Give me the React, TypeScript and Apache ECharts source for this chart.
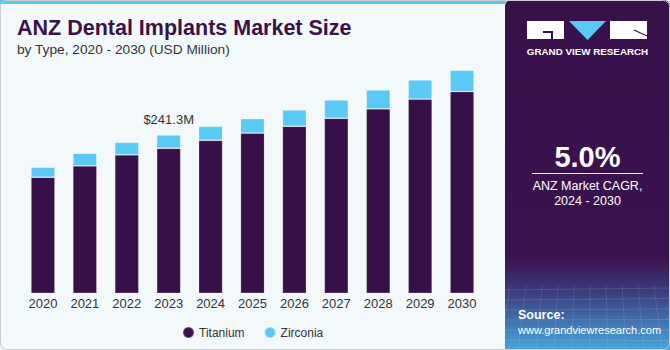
import React, { useEffect, useRef } from "react";
import * as echarts from "echarts";

const years = ["2020", "2021", "2022", "2023", "2024", "2025", "2026", "2027", "2028", "2029", "2030"];
const titanium = [176.8, 194.0, 210.8, 221.0, 233.2, 243.9, 254.5, 266.7, 280.9, 295.7, 307.2];
const zirconia = [15.2, 19.4, 19.3, 20.3, 21.3, 22.2, 24.9, 27.9, 29.0, 29.4, 32.7];
const labelIndex = 3;
const labelText = "$241.3M";

const FONT = "'Liberation Sans', Arial, Helvetica, sans-serif";

export default function App() {
  const ref = useRef<HTMLDivElement>(null);
  useEffect(() => {
    document.body.style.margin = "0";
    const chart = echarts.init(ref.current!, null, { renderer: "svg" });
    const option: any = {
      animation: false,
      backgroundColor: "#f3f8fb",
      textStyle: { fontFamily: FONT },
      grid: { left: 22, right: 187, top: 57, bottom: 56.7, containLabel: false },
      xAxis: {
        type: "category",
        data: years,
        axisLine: { show: false },
        axisTick: { show: false },
        axisLabel: { color: "#333333", fontSize: 13, margin: 4, fontFamily: FONT },
      },
      yAxis: {
        type: "value",
        min: 0,
        max: 360,
        show: false,
        splitLine: { show: false },
      },
      legend: {
        left: 177,
        top: 321,
        icon: "circle",
        itemWidth: 11,
        itemHeight: 11,
        itemGap: 19,
        textStyle: { color: "#333333", fontSize: 12, fontFamily: FONT },
        data: ["Titanium", "Zirconia"],
      },
      series: [
        {
          name: "Titanium",
          type: "bar",
          stack: "total",
          data: titanium,
          barWidth: 24,
          itemStyle: { color: "#37104a", borderColor: "rgba(255,255,255,0.25)", borderWidth: 0.8 },
        },
        {
          name: "Zirconia",
          type: "bar",
          stack: "total",
          data: zirconia.map((v, i) =>
            i === labelIndex
              ? {
                  value: v,
                  label: {
                    show: true,
                    position: "top",
                    distance: 9,
                    formatter: labelText,
                    color: "#333333",
                    fontSize: 13,
                    fontFamily: FONT,
                  },
                }
              : v
          ),
          barWidth: 24,
          itemStyle: { color: "#5bc9f5", borderColor: "rgba(255,255,255,0.35)", borderWidth: 0.8 },
        },
      ],
      graphic: [
        { type: "rect", shape: { x: 0, y: 0, width: 506, height: 4 }, style: { fill: "#5bc8f2" }, z: 10 },
        {
          type: "text",
          style: {
            x: 17,
            y: 28,
            text: "ANZ Dental Implants Market Size",
            fill: "#3a1248",
            font: `bold 21.5px ${FONT}`,
            verticalAlign: "middle",
          },
        },
        {
          type: "text",
          style: {
            x: 17,
            y: 49,
            text: "by Type, 2020 - 2030 (USD Million)",
            fill: "#333333",
            font: `13.7px ${FONT}`,
            verticalAlign: "middle",
          },
        },
        {
          type: "rect",
          shape: { x: 505, y: 0, width: 165, height: 350, r: [6, 6, 0, 0] },
          style: {
            fill: new echarts.graphic.LinearGradient(0, 0, 0, 1, [
              { offset: 0, color: "#38104a" },
              { offset: 0.74, color: "#3a134f" },
              { offset: 0.84, color: "#3b3f80" },
              { offset: 1, color: "#48a6de" },
            ]),
          },
          z: 5,
        },
        ...[0, 1, 2, 3, 4, 5].map((k) => ({
          type: "line",
          shape: { x1: 505, y1: 290 + k * 10, x2: 670, y2: 288 + k * 10.5 },
          style: { stroke: "rgba(255,255,255,0.12)", lineWidth: 1 },
          z: 6,
        })),
        ...[0, 1, 2, 3, 4, 5, 6, 7, 8, 9, 10].map((k) => ({
          type: "line",
          shape: { x1: 510 + k * 16, y1: 285, x2: 500 + k * 18, y2: 350 },
          style: { stroke: "rgba(255,255,255,0.1)", lineWidth: 1 },
          z: 6,
        })),
        { type: "rect", shape: { x: 527, y: 21, width: 37, height: 18 }, style: { fill: "#ffffff" }, z: 7 },
        { type: "rect", shape: { x: 543, y: 31, width: 10, height: 2 }, style: { fill: "#38104a" }, z: 8 },
        { type: "rect", shape: { x: 551, y: 31, width: 2, height: 8 }, style: { fill: "#38104a" }, z: 8 },
        {
          type: "polygon",
          shape: { points: [[569, 21], [606, 21], [587.5, 40]] },
          style: { fill: "#5bc8f5" },
          z: 7,
        },
        { type: "rect", shape: { x: 610, y: 21, width: 37, height: 18 }, style: { fill: "#ffffff" }, z: 7 },
        { type: "line", shape: { x1: 634, y1: 30, x2: 647, y2: 36 }, style: { stroke: "#38104a", lineWidth: 1.2 }, z: 8 },
        {
          type: "text",
          style: {
            x: 587.5,
            y: 51,
            text: "GRAND VIEW RESEARCH",
            fill: "#ffffff",
            font: `bold 9.8px ${FONT}`,
            align: "center",
            verticalAlign: "middle",
          },
          z: 7,
        },
        {
          type: "text",
          style: {
            x: 587.5,
            y: 157,
            text: "5.0%",
            fill: "#ffffff",
            font: `bold 29px ${FONT}`,
            align: "center",
            verticalAlign: "middle",
          },
          z: 7,
        },
        { type: "line", shape: { x1: 532, y1: 173.5, x2: 643, y2: 173.5 }, style: { stroke: "#ffffff", lineWidth: 1 }, z: 7 },
        {
          type: "text",
          style: {
            x: 587.5,
            y: 186,
            text: "ANZ Market CAGR,",
            fill: "#ffffff",
            font: `12.5px ${FONT}`,
            align: "center",
            verticalAlign: "middle",
          },
          z: 7,
        },
        {
          type: "text",
          style: {
            x: 587.5,
            y: 201,
            text: "2024 - 2030",
            fill: "#ffffff",
            font: `12.5px ${FONT}`,
            align: "center",
            verticalAlign: "middle",
          },
          z: 7,
        },
        {
          type: "text",
          style: {
            x: 518,
            y: 315,
            text: "Source:",
            fill: "#ffffff",
            font: `bold 12.5px ${FONT}`,
            verticalAlign: "middle",
          },
          z: 7,
        },
        {
          type: "text",
          style: {
            x: 518,
            y: 330,
            text: "www.grandviewresearch.com",
            fill: "#ffffff",
            font: `11px ${FONT}`,
            verticalAlign: "middle",
          },
          z: 7,
        },
        {
          type: "rect",
          shape: { x: 0.5, y: 0.5, width: 669, height: 349, r: 6 },
          style: { fill: "none", stroke: "#c8cdd2", lineWidth: 1 },
          z: 20,
        },
      ],
    };
    chart.setOption(option);
    return () => chart.dispose();
  }, []);
  return <div ref={ref} style={{ width: 670, height: 350, position: "absolute", left: 0, top: 0 }} />;
}
